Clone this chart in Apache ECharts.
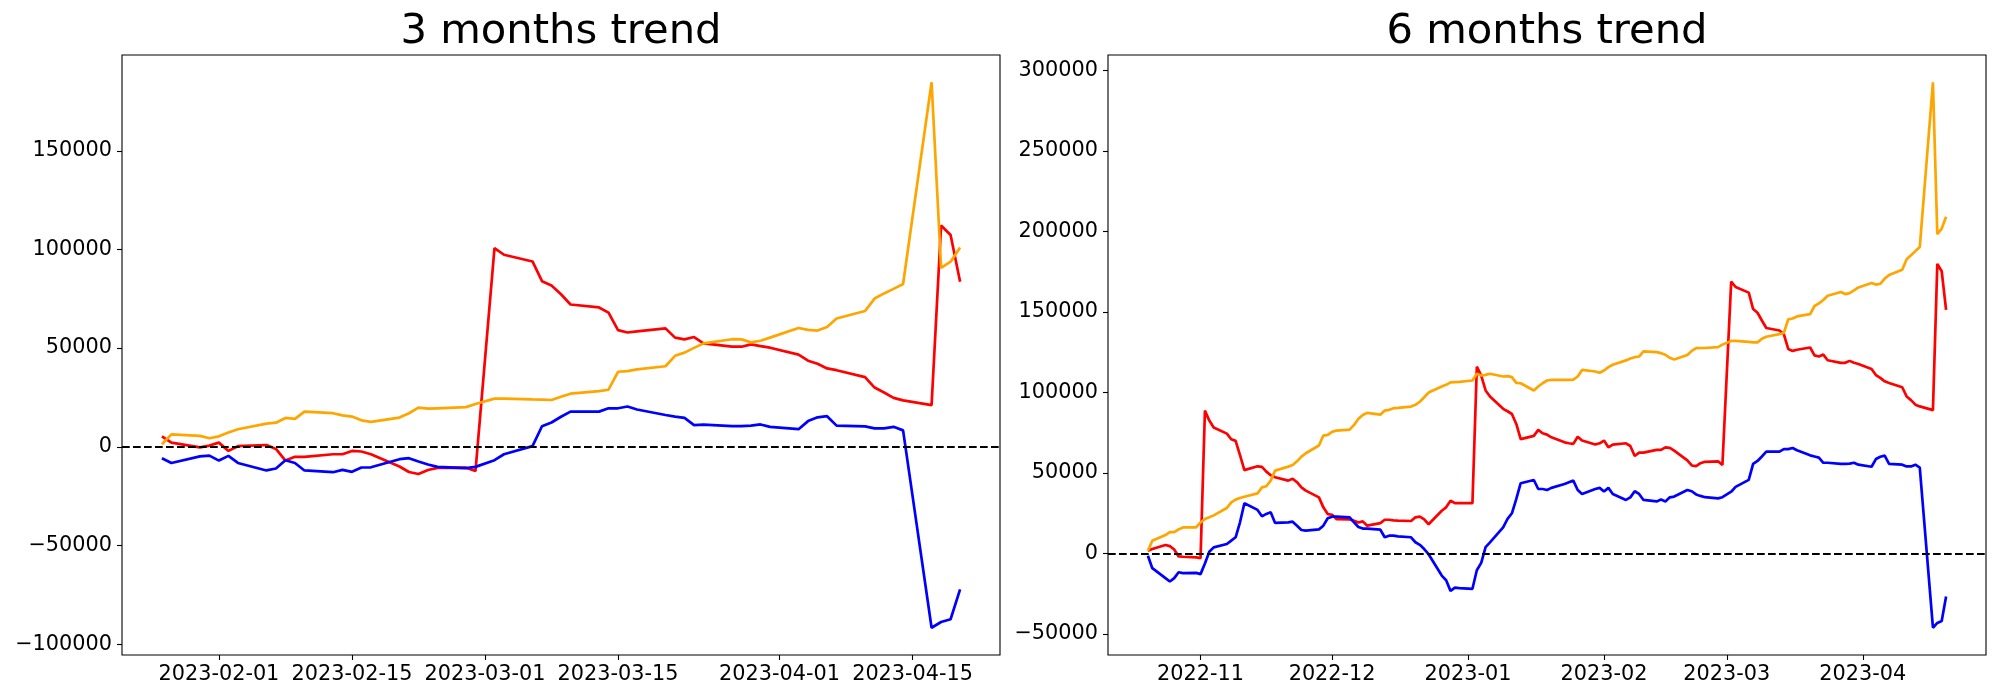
<!DOCTYPE html>
<html>
<head>
<meta charset="utf-8">
<script src="https://cdn.jsdelivr.net/npm/echarts@6.0.0/dist/echarts.min.js"></script>
<style>
  html, body { margin: 0; padding: 0; background: #fff; }
  #chart { width: 2000px; height: 700px; }
</style>
</head>
<body>
<div id="chart"></div>
<script>
// ---------- 3 months trend ----------
const dates3 = ['2023-01-26','2023-01-27','2023-01-30','2023-01-31',
  '2023-02-01','2023-02-02','2023-02-03','2023-02-06','2023-02-07','2023-02-08','2023-02-09','2023-02-10','2023-02-13','2023-02-14','2023-02-15','2023-02-16','2023-02-17','2023-02-20','2023-02-21','2023-02-22','2023-02-23','2023-02-24','2023-02-27','2023-02-28',
  '2023-03-02','2023-03-03','2023-03-06','2023-03-07','2023-03-08','2023-03-09','2023-03-10','2023-03-13','2023-03-14','2023-03-15','2023-03-16','2023-03-17','2023-03-20','2023-03-21','2023-03-22','2023-03-23','2023-03-24','2023-03-27','2023-03-28','2023-03-29','2023-03-30','2023-03-31',
  '2023-04-03','2023-04-04','2023-04-05','2023-04-06','2023-04-07','2023-04-10','2023-04-11','2023-04-12','2023-04-13','2023-04-14','2023-04-17','2023-04-18','2023-04-19','2023-04-20'];
const red3 = [5300, 2100, -300, 600,
  2100, -2100, 300, 900, -1100, -7000, -5100, -5100, -3800, -3800, -2100, -2400, -3800, -10000, -12800, -13800, -11800, -10700, -10600, -12300,
  100600, 97300, 93900, 83900, 81700, 77300, 72100, 70600, 68000, 59100, 57900, 58500, 60000, 55300, 54400, 55600, 52400, 50700, 50700, 51900, 51000, 50200,
  46700, 43600, 42100, 39700, 38800, 35300, 30000, 27500, 24800, 23500, 21100, 112100, 107300, 83600];
const orange3 = [1300, 6300, 5500, 4300,
  5300, 7200, 8900, 11700, 12200, 14600, 14100, 17800, 17000, 15900, 15300, 13400, 12600, 14800, 17000, 19800, 19300, 19500, 20100, 21700,
  24400, 24400, 24000, 23900, 23700, 25300, 26900, 28200, 28900, 38000, 38300, 39200, 40800, 46100, 47700, 50100, 52400, 54500, 54400, 52900, 53700, 55300,
  60200, 59200, 58900, 60700, 65000, 68800, 75100, 77700, 80000, 82500, 184700, 90700, 93800, 101000];
const blue3 = [-5800, -8200, -4900, -4500,
  -7000, -4600, -8200, -12000, -11000, -6800, -8200, -12000, -12900, -11700, -12700, -10500, -10400, -6300, -5800, -7500, -9000, -10200, -10800, -10200,
  -6800, -3800, 300, 10400, 12300, 15200, 17800, 17800, 19500, 19500, 20400, 18900, 16100, 15300, 14600, 11000, 11200, 10500, 10500, 10700, 11300, 10100,
  8900, 13000, 14900, 15500, 10700, 10300, 9300, 9300, 10100, 8300, -91700, -88800, -87400, -72300];
const xTicks3 = ['2023-02-01','2023-02-15','2023-03-01','2023-03-15','2023-04-01','2023-04-15'];
const yTicks3 = [-100000, -50000, 0, 50000, 100000, 150000];

// ---------- 6 months trend ----------
const dates6 = ['2022-10-20','2022-10-21','2022-10-24','2022-10-25','2022-10-26','2022-10-27','2022-10-28','2022-10-31',
  '2022-11-01','2022-11-02','2022-11-03','2022-11-04','2022-11-07','2022-11-08','2022-11-09','2022-11-10','2022-11-11','2022-11-14','2022-11-15','2022-11-16','2022-11-17','2022-11-18','2022-11-21','2022-11-22','2022-11-23','2022-11-24','2022-11-25','2022-11-28','2022-11-29','2022-11-30',
  '2022-12-01','2022-12-02','2022-12-05','2022-12-06','2022-12-07','2022-12-08','2022-12-09','2022-12-12','2022-12-13','2022-12-14','2022-12-15','2022-12-16','2022-12-19','2022-12-20','2022-12-21','2022-12-22','2022-12-23','2022-12-26','2022-12-27','2022-12-28','2022-12-29','2022-12-30',
  '2023-01-02','2023-01-03','2023-01-04','2023-01-05','2023-01-06','2023-01-09','2023-01-10','2023-01-11','2023-01-12','2023-01-13','2023-01-16','2023-01-17','2023-01-18','2023-01-19','2023-01-20','2023-01-23','2023-01-24','2023-01-25','2023-01-26','2023-01-27','2023-01-30','2023-01-31',
  '2023-02-01','2023-02-02','2023-02-03','2023-02-06','2023-02-07','2023-02-08','2023-02-09','2023-02-10','2023-02-13','2023-02-14','2023-02-15','2023-02-16','2023-02-17','2023-02-20','2023-02-21','2023-02-22','2023-02-23','2023-02-24','2023-02-27','2023-02-28',
  '2023-03-02','2023-03-03','2023-03-06','2023-03-07','2023-03-08','2023-03-09','2023-03-10','2023-03-13','2023-03-14','2023-03-15','2023-03-16','2023-03-17','2023-03-20','2023-03-21','2023-03-22','2023-03-23','2023-03-24','2023-03-27','2023-03-28','2023-03-29','2023-03-30','2023-03-31',
  '2023-04-03','2023-04-04','2023-04-05','2023-04-06','2023-04-07','2023-04-10','2023-04-11','2023-04-12','2023-04-13','2023-04-14','2023-04-17','2023-04-18','2023-04-19','2023-04-20'];
const red6 = [1600, 2700, 5200, 4500, 2400, -1900, -2100, -2500,
  -3000, 88700, 82500, 78200, 74400, 70900, 69900, 61000, 51700, 54100, 53700, 50800, 48500, 47300, 45200, 46400, 44200, 41000, 39000, 34800, 28600, 24400,
  24000, 21300, 21100, 20300, 19200, 19900, 17200, 18800, 20900, 20900, 20500, 20300, 20100, 22400, 22800, 21100, 18100, 26500, 28600, 32700, 31200, 31200,
  31200, 116000, 110500, 101200, 97500, 89800, 88300, 86600, 80400, 71000, 73000, 76700, 74600, 73800, 72100, 69000, 68400, 68000, 72500, 70100, 67600, 68400,
  70100, 65900, 67600, 68400, 66700, 60500, 62600, 62600, 64300, 64300, 65900, 65500, 63800, 57800, 54600, 54200, 56000, 56900, 57200, 54900,
  168800, 165500, 162000, 151800, 149500, 144700, 140000, 138500, 136200, 127000, 125800, 126500, 127900, 123000, 122300, 123500, 120000, 118400, 118400, 119600, 118400, 117700,
  114600, 110800, 109000, 106900, 105800, 103200, 97500, 95200, 92400, 91300, 89000, 179900, 175300, 151300];
const orange6 = [1600, 7800, 11400, 13200, 13200, 14900, 16100, 16100,
  19200, 21300, 22400, 23600, 28200, 31700, 33400, 34400, 35200, 37300, 41000, 41700, 45200, 51400, 53900, 54900, 57200, 60100, 62200, 67000, 73200, 73600,
  75500, 76300, 76900, 79800, 83600, 86000, 87300, 86200, 88700, 89200, 90200, 90400, 91200, 92300, 94200, 97000, 99900, 103700, 104700, 106200, 106400, 106600,
  107400, 111600, 110500, 110900, 111600, 109900, 110100, 109500, 105900, 105700, 101200, 103700, 105700, 107400, 107800, 107800, 107800, 108000, 109900, 114000, 113000, 112200,
  113600, 115700, 117200, 119900, 121100, 121900, 122300, 125500, 125000, 124400, 123400, 121500, 120500, 123200, 125800, 127500, 127600, 127600, 128100, 129700,
  132000, 132000, 131400, 131100, 131100, 133400, 134600, 136200, 136900, 145400, 145900, 147200, 148600, 153700, 155300, 157400, 160100, 162400, 161100, 161700, 163400, 165200,
  168000, 167000, 167500, 170700, 173000, 176200, 182700, 185200, 187800, 190300, 292700, 198300, 201800, 209200];
const blue6 = [-1500, -9200, -15400, -17500, -15400, -11700, -12300, -12100,
  -12900, -6300, 1000, 3700, 5800, 7900, 10000, 19300, 31100, 27000, 23000, 24500, 25500, 18900, 19300, 19700, 17200, 14500, 14100, 14900, 17200, 21800,
  22800, 22800, 22400, 19300, 16400, 15400, 15400, 14700, 10000, 11000, 11000, 10600, 10000, 6900, 5300, 2700, -500, -13800, -16700, -23300, -21300, -21600,
  -22000, -10500, -5900, 3900, 6800, 16200, 21400, 24900, 33800, 43600, 45600, 40000, 40000, 39400, 40700, 43100, 44200, 45200, 39400, 36900, 40000, 40700,
  38400, 40700, 36900, 33200, 34800, 38600, 36900, 33200, 32300, 33400, 32300, 34800, 35300, 39400, 38600, 36600, 35700, 34900, 34200, 34900,
  38300, 41300, 45700, 55600, 57400, 60200, 63200, 63200, 64800, 64800, 65500, 64100, 60900, 60200, 59500, 56300, 56300, 55600, 55600, 55800, 56300, 55100,
  53800, 58600, 60000, 60700, 55600, 55100, 54000, 54000, 55100, 53300, -46200, -43200, -42000, -26800];
const xTicks6 = ['2022-11-01','2022-12-01','2023-01-01','2023-02-01','2023-03-01','2023-04-01'];
const yTicks6 = [-50000, 0, 50000, 100000, 150000, 200000, 250000, 300000];

const titles = ['3 months trend', '6 months trend'];
const colors = { red: '#ff0000', orange: '#ffa500', blue: '#0000ff' };

// ---------- helpers ----------
function toTs(s) { const p = s.split('-').map(Number); return Date.UTC(p[0], p[1] - 1, p[2]); }
function pad(n) { return (n < 10 ? '0' : '') + n; }
function fmtDay(v) { const d = new Date(Math.round(v)); return d.getUTCFullYear() + '-' + pad(d.getUTCMonth() + 1) + '-' + pad(d.getUTCDate()); }
function fmtMonth(v) { const d = new Date(Math.round(v)); return d.getUTCFullYear() + '-' + pad(d.getUTCMonth() + 1); }
function fmtNum(v) { return v < 0 ? '\u2212' + String(-v) : String(v); }
function pairs(dates, vals) { return dates.map((d, i) => [toTs(d), vals[i]]); }
function padRange(arrs) {
  let lo = Infinity, hi = -Infinity;
  arrs.forEach(a => a.forEach(v => { if (v < lo) lo = v; if (v > hi) hi = v; }));
  const m = (hi - lo) * 0.05; return [lo - m, hi + m];
}

const FONT = 'DejaVu Sans';
const TICK_FS = 20.8;

const yr3 = padRange([red3, orange3, blue3]);
const yr6 = padRange([red6, orange6, blue6]);
const xs3 = toTs(dates3[0]), xe3 = toTs(dates3[dates3.length - 1]);
const xs6 = toTs(dates6[0]), xe6 = toTs(dates6[dates6.length - 1]);
const xm3 = (xe3 - xs3) * 0.05, xm6 = (xe6 - xs6) * 0.05;

function xAxisCfg(idx, min, max, ticks, fmt) {
  const tv = ticks.map(toTs);
  return {
    type: 'value', gridIndex: idx, min: min, max: max, scale: true,
    axisLine: { show: false, onZero: false },
    splitLine: { show: false },
    axisTick: { show: true, customValues: tv, length: 5, lineStyle: { color: '#000', width: 1.1 } },
    axisLabel: { customValues: tv, formatter: v => fmt(v), color: '#000', fontSize: TICK_FS, fontFamily: FONT, margin: 9, hideOverlap: false, showMinLabel: true, showMaxLabel: true }
  };
}
function yAxisCfg(idx, min, max, ticks) {
  return {
    type: 'value', gridIndex: idx, min: min, max: max, scale: true,
    axisLine: { show: false, onZero: false },
    splitLine: { show: false },
    axisTick: { show: true, customValues: ticks, length: 5, lineStyle: { color: '#000', width: 1.1 } },
    axisLabel: { customValues: ticks, formatter: v => fmtNum(v), color: '#000', fontSize: TICK_FS, fontFamily: FONT, margin: 10, showMinLabel: true, showMaxLabel: true }
  };
}
function lineSeries(idx, dates, vals, color, withZero) {
  const s = {
    type: 'line', xAxisIndex: idx, yAxisIndex: idx,
    data: pairs(dates, vals), showSymbol: false, symbol: 'none',
    lineStyle: { color: color, width: 2.7 }, itemStyle: { color: color },
    emphasis: { disabled: true }, silent: true, animation: false
  };
  if (withZero) {
    s.markLine = {
      silent: true, animation: false, symbol: ['none', 'none'],
      label: { show: false },
      lineStyle: { color: '#000', width: 2.08, type: [7.7, 3.3] },
      emphasis: { disabled: true },
      data: [{ yAxis: 0 }]
    };
  }
  return s;
}

const grids = [
  { left: 122, top: 55, width: 878, height: 600 },
  { left: 1108, top: 55, width: 878, height: 600 }
];

const chart = echarts.init(document.getElementById('chart'), null, { renderer: 'canvas' });
chart.setOption({
  animation: false,
  backgroundColor: '#fff',
  textStyle: { fontFamily: FONT },
  grid: grids.map(g => Object.assign({ show: true, borderColor: '#000', borderWidth: 1.1, backgroundColor: 'transparent', containLabel: false }, g)),
  graphic: titles.map((t, i) => ({
    type: 'text', silent: true,
    x: grids[i].left + grids[i].width / 2, y: 32.6,
    style: { text: t, font: '41.7px "DejaVu Sans"', fill: '#000', textAlign: 'center', textVerticalAlign: 'middle' }
  })),
  xAxis: [
    xAxisCfg(0, xs3 - xm3, xe3 + xm3, xTicks3, fmtDay),
    xAxisCfg(1, xs6 - xm6, xe6 + xm6, xTicks6, fmtMonth)
  ],
  yAxis: [
    yAxisCfg(0, yr3[0], yr3[1], yTicks3),
    yAxisCfg(1, yr6[0], yr6[1], yTicks6)
  ],
  series: [
    lineSeries(0, dates3, red3, colors.red, false),
    lineSeries(0, dates3, orange3, colors.orange, false),
    lineSeries(0, dates3, blue3, colors.blue, true),
    lineSeries(1, dates6, red6, colors.red, false),
    lineSeries(1, dates6, orange6, colors.orange, false),
    lineSeries(1, dates6, blue6, colors.blue, true)
  ]
});
</script>
</body>
</html>
